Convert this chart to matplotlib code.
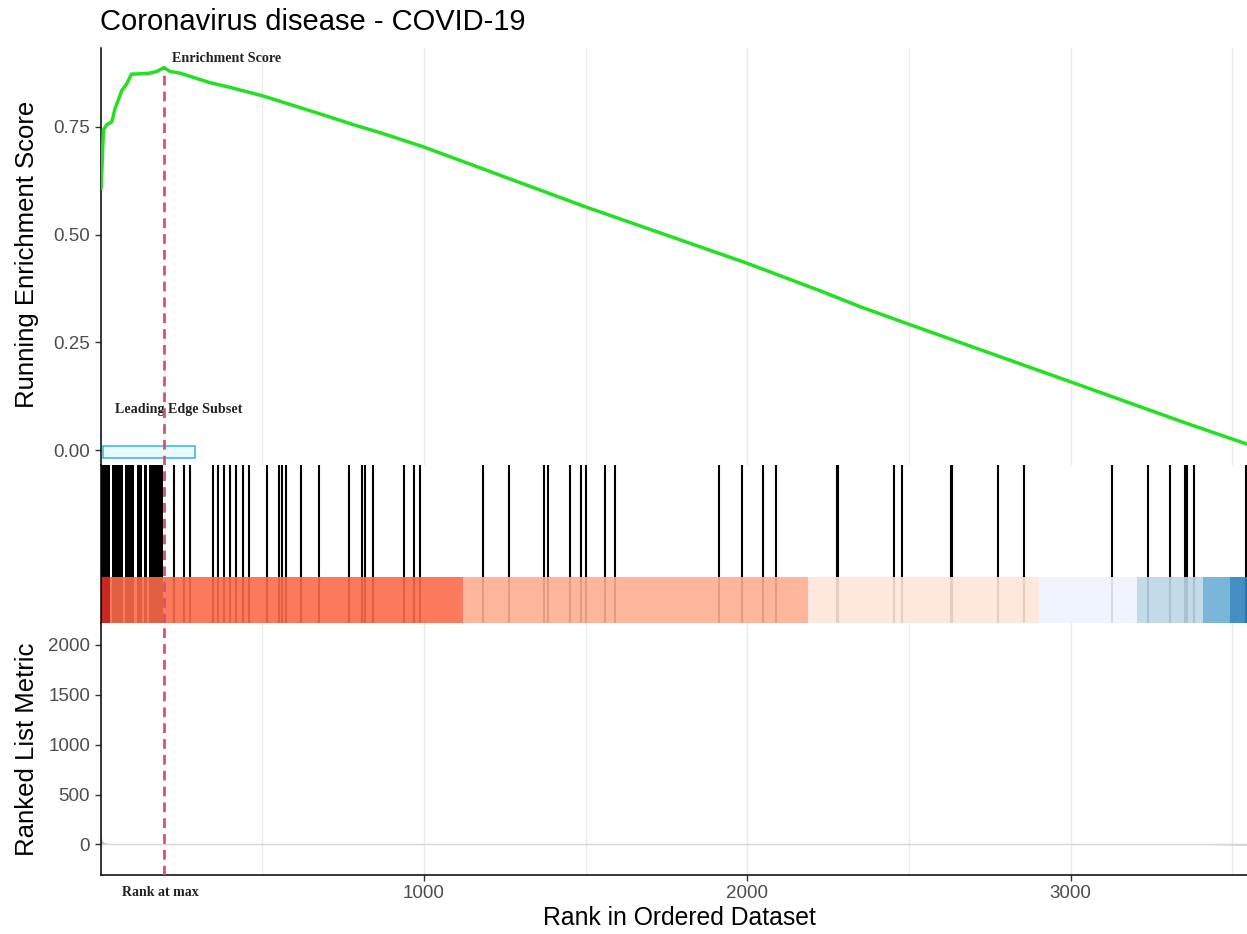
"""GSEA running enrichment plot: Coronavirus disease - COVID-19 (gseaplot2 style)."""
import matplotlib
matplotlib.use("Agg")
import matplotlib.pyplot as plt
import numpy as np

# ---- data ----
TITLE = "Coronavirus disease - COVID-19"

es_rank = [2, 9, 19, 35, 45, 66, 81, 96, 112, 153, 174, 196, 215, 246, 338, 400,
           503, 689, 792, 864, 998, 1498, 1998, 2224, 2348, 2492, 2997, 3358, 3544]
es_value = [0.608, 0.743, 0.755, 0.762, 0.793, 0.835, 0.850, 0.873, 0.873, 0.875,
            0.879, 0.888, 0.879, 0.875, 0.853, 0.842, 0.822, 0.778, 0.753, 0.737,
            0.704, 0.565, 0.434, 0.370, 0.333, 0.294, 0.159, 0.062, 0.014]

rank_at_max = 196
es_max = 0.888

# densely packed hits at the top of the list: (start, end) ranks
dense_hits = [(0, 30), (36, 70), (76, 104), (113, 128), (134, 144), (150, 193)]
hit_ranks = [227, 258, 277, 348, 363, 381, 400, 420, 440, 459, 516, 553, 561, 575,
             619, 677, 767, 809, 818, 842, 939, 968, 989, 1182, 1262, 1370, 1384,
             1453, 1486, 1502, 1561, 1590, 1913, 1982, 2048, 2089, 2276, 2281, 2452,
             2478, 2629, 2634, 2775, 2856, 3128, 3238, 3307, 3352, 3358, 3381, 3541]

# colour strip of the ranked list
strip_edges = [0, 30, 1120, 2187, 2901, 3204, 3408, 3491, 3570]
strip_colors = ["#DE2D26", "#FB6A4A", "#FCAE91", "#FEE5D9",
                "#EFF3FF", "#BDD7E7", "#6BAED6", "#3182BD"]

leading_edge = (8, 292)  # rank span of the leading edge box

metric_rank = [0, 1, 3, 6, 12, 25, 50, 100, 3380, 3460, 3545]
metric_value = [250, 120, 60, 35, 18, 8, 3, 1, 0, -4, -8]

es_ticks = [0.00, 0.25, 0.50, 0.75]
metric_ticks = [0, 500, 1000, 1500, 2000]
rank_ticks = [1000, 2000, 3000]
grid_ranks = [500, 1000, 1500, 2000, 2500, 3000, 3500]

XMAX = 3545
GRID = "#EBEBEB"
TICKTXT = "#4D4D4D"
GREEN = "#22E022"
DASH = "#D6546A"

plt.rcParams["font.family"] = ["Liberation Sans", "DejaVu Sans"]

W_PX, H_PX = 1247, 934
fig = plt.figure(figsize=(W_PX / 100, H_PX / 100), dpi=100)


def px_axes(top, bottom, left=100.5, right=1247):
    return fig.add_axes([left / W_PX, 1 - bottom / H_PX,
                         (right - left) / W_PX, (bottom - top) / H_PX])


ax1 = px_axes(48, 465)
ax2 = px_axes(465, 623)
ax3 = px_axes(623, 875)

for ax in (ax1, ax2, ax3):
    ax.set_xlim(0, XMAX)
    for side in ("top", "right"):
        ax.spines[side].set_visible(False)
    ax.spines["left"].set_linewidth(1.1)
    ax.spines["bottom"].set_linewidth(1.1)

# ---- top panel: running enrichment score ----
for g in grid_ranks:
    ax1.axvline(g, color=GRID, lw=1.0, zorder=0)
ax1.plot(es_rank, es_value, color=GREEN, lw=2.5, zorder=3, solid_capstyle="round")
ax1.set_ylim(-0.0348, 0.9334)
ax1.vlines(rank_at_max, -0.0348, es_max, color=DASH, lw=2.0,
           linestyles=(0, (3.5, 2.2)), zorder=4)
ax1.add_patch(plt.Rectangle((leading_edge[0], -0.018), leading_edge[1] - leading_edge[0],
                            0.0275, facecolor="#E6FAFF", edgecolor="#46B8DA", lw=1.2, zorder=2))
ax1.text(rank_at_max + 25, 0.910, "Enrichment Score", family=["Liberation Serif"],
         fontweight="bold", fontsize=10.2, va="center", ha="left", color="#222222")
ax1.text(45, 0.093, "Leading Edge Subset", family=["Liberation Serif"],
         fontweight="bold", fontsize=10.2, va="center", ha="left", color="#222222")
ax1.spines["bottom"].set_visible(False)
ax1.set_xticks([])
ax1.set_yticks(es_ticks)
ax1.set_yticklabels([f"{v:.2f}" for v in es_ticks])
ax1.tick_params(axis="y", labelsize=13.5, labelcolor=TICKTXT, length=4, width=1, color="#333333")

# ---- middle panel: hit ticks + colour strip ----
ax2.set_ylim(-0.41, 1)
for start, end in dense_hits:
    ax2.bar(start, 1.41, width=end - start, bottom=-0.41, align="edge",
            color="black", lw=0, zorder=1)
ax2.vlines(hit_ranks, -0.41, 1, color="black", lw=1.5, zorder=1)
for i, c in enumerate(strip_colors):
    ax2.bar(strip_edges[i], 0.41, width=strip_edges[i + 1] - strip_edges[i],
            bottom=-0.41, align="edge", color=c, alpha=0.9, lw=0, zorder=2)
ax2.axvline(rank_at_max, color=DASH, lw=2.0, ls=(0, (3.5, 2.2)), zorder=4)
ax2.spines["bottom"].set_visible(False)
ax2.set_xticks([])
ax2.set_yticks([])

# ---- bottom panel: ranked list metric ----
for g in grid_ranks:
    ax3.axvline(g, color=GRID, lw=1.0, zorder=0)
ax3.fill_between(metric_rank, metric_value, 0, color="#BEBEBE", lw=0, zorder=1)
ax3.plot(metric_rank, [0] * len(metric_rank), color="#D6D6D6", lw=1.0, zorder=1)
ax3.set_ylim(-307, 2220)
ax3.axvline(rank_at_max, color=DASH, lw=2.0, ls=(0, (3.5, 2.2)), zorder=4)
ax3.set_yticks(metric_ticks)
ax3.set_xticks(rank_ticks)
ax3.tick_params(axis="both", labelsize=13.5, labelcolor=TICKTXT, length=4, width=1, color="#333333")
ax3.text(rank_at_max - 10, -0.07, "Rank at max", transform=ax3.get_xaxis_transform(),
         family=["Liberation Serif"], fontweight="bold", fontsize=10, ha="center", va="center",
         color="#222222")

# ---- titles and axis labels ----
fig.text(100 / W_PX, 1 - 22 / H_PX, TITLE, fontsize=21, ha="left", va="center")
fig.text(27 / W_PX, 1 - 254 / H_PX, "Running Enrichment Score", fontsize=18.5,
         rotation=90, ha="center", va="center")
fig.text(27 / W_PX, 1 - 749 / H_PX, "Ranked List Metric", fontsize=18.5,
         rotation=90, ha="center", va="center")
fig.text(679 / W_PX, 1 - 918 / H_PX, "Rank in Ordered Dataset", fontsize=17.8,
         ha="center", va="center")

fig.savefig("out.png", dpi=100)
